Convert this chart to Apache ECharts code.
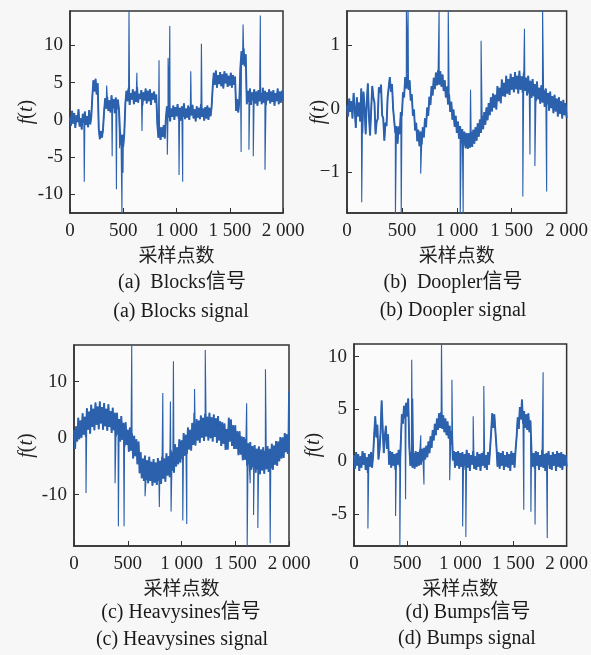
<!DOCTYPE html>
<html><head><meta charset="utf-8">
<script src="https://cdn.jsdelivr.net/npm/echarts@6/dist/echarts.min.js"></script>
<style>html,body{margin:0;padding:0;background:#f7f7f7;}#c{width:591px;height:655px;}</style>
</head><body><div id="c"></div>
<script>
// ---- data ----
const SAMPLE_STEP = 10;          // samples between consecutive base values
const xTicks = [0, 500, 1000, 1500, 2000];

// (a) Blocks: base noisy values every 10 samples, 0..2000
const blocksY = [
 0.3,-0.8,1.2,-0.5,0.9,-1.1,0.6,-0.3,1.4,-0.9,0.2,-1.3,0.8,-0.4,1.1,-0.7,0.5,-1.0,1.3,-0.6,0.4,
 3.2,5.3,3.8,5.5,3.4,4.9,
 -1.2,-2.6,-1.5,-2.4,-1.3,
 1.1,2.9,1.5,3.1,1.2,2.6,1.0,3.3,1.6,2.8,0.9,3.0,1.4,2.7,1.3,
 -1.6,-3.4,-2.0,-3.6,-1.8,
 2.2,3.9,2.5,4.3,2.0,3.6,2.7,4.1,2.1,3.8,2.4,4.4,2.3,3.5,2.8,4.0,1.9,3.7,2.6,4.2,2.2,3.9,2.5,4.1,2.0,3.6,2.7,3.8,2.3,3.4,
 -0.6,-2.4,-0.9,-2.7,-1.0,-2.3,-0.7,-2.5,
 0.1,1.8,0.3,2.0,-0.2,1.5,0.4,1.9,0.0,1.7,0.5,
 2.1,0.2,1.6,-0.1,1.8,0.4,2.2,0.1,1.5,0.3,1.9,
 0.0,1.7,0.6,2.0,0.2,1.4,-0.2,1.8,0.3,1.6,0.1,
 2.1,0.4,1.5,-0.1,1.7,0.2,1.9,0.0,1.6,0.5,1.8,
 4.4,6.3,4.7,6.6,4.3,6.0,4.8,6.4,4.5,6.1,4.2,6.5,4.9,6.2,4.4,5.9,4.6,6.3,4.3,6.0,4.7,5.8,
 1.2,2.8,1.0,2.5,
 7.0,9.2,7.4,9.6,7.2,8.8,
 2.1,3.9,2.4,4.2,2.0,3.7,2.6,4.1,2.2,3.8,1.9,4.0,
 2.5,3.6,2.1,4.3,2.3,3.9,2.0,3.7,2.6,4.1,2.2,3.8,
 2.4,4.0,1.9,3.6,2.5,4.2,2.1,3.8,2.3,3.9,2.6
];
// spikes: [sample, value]
const blocksSpikes = [[134,-8.3],[344,4.6],[396,-4.9],[436,-9.3],[466,-3.8],[488,-12.8],[498,-7.1],[554,14.8],[628,6.3],[676,-1.5],[836,8.0],[914,-4.7],[921,8.3],[937,12.6],[1024,-7.4],[1058,-8.3],[1134,6.5],[1234,10.2],[1607,-4.3],[1625,12.8],[1680,-4.0],[1721,-4.9],[1787,14.0],[1831,-6.7]];

// (b) Doppler
const dopplerY = [
 0.05,-0.12,0.16,-0.05,0.12,-0.15,0.25,0.02,-0.30,0.18,
 -0.12,0.10,-0.20,0.32,-0.38,0.27,0.02,-0.40,0.10,0.40,
 -0.12,-0.42,-0.02,0.36,0.18,0.10,-0.40,-0.20,-0.16,0.34,
 0.25,0.38,-0.10,-0.15,-0.50,-0.22,-0.27,0.18,0.17,0.50,
 0.27,0.39,0.0,-0.02,-0.38,-0.27,-0.55,-0.28,-0.40,-0.05,
 -0.11,0.26,0.18,0.50,0.32,0.56,0.30,0.45,0.13,0.23,
 -0.11,-0.01,-0.34,-0.22,-0.51,-0.33,-0.59,-0.36,-0.56,-0.29,
 -0.45,-0.15,-0.29,0.02,-0.11,0.19,0.06,0.36,0.21,0.49,
 0.31,0.57,0.37,0.61,0.38,0.59,0.35,0.54,0.28,0.45,
 0.18,0.35,0.07,0.23,-0.05,0.11,-0.17,-0.01,-0.28,-0.11,
 -0.38,-0.20,-0.47,-0.27,-0.54,-0.32,-0.58,-0.36,-0.62,-0.38,
 -0.63,-0.38,-0.61,-0.36,-0.60,-0.33,-0.55,-0.29,-0.50,-0.23,
 -0.44,-0.17,-0.38,-0.11,-0.32,-0.05,-0.25,0.02,-0.18,0.09,
 -0.10,0.18,-0.04,0.24,0.02,0.22,-0.01,0.36,0.12,0.33,
 0.09,0.46,0.20,0.41,0.19,0.52,0.24,0.47,0.22,0.55,
 0.30,0.50,0.26,0.58,0.31,0.52,0.24,0.60,0.30,0.51,
 0.25,0.57,0.28,0.49,0.21,0.52,0.24,0.44,0.17,0.47,
 0.20,0.39,0.12,0.43,0.15,0.33,0.08,0.37,0.10,0.30,
 0.03,0.32,0.07,0.25,-0.03,0.27,0.01,0.20,-0.07,0.22,
 -0.04,0.16,-0.12,0.18,-0.08,0.12,-0.15,0.14,-0.10,0.09,
 -0.14
];
const dopplerSpikes = [[134,-1.47],[441,-1.7],[494,-1.7],[541,1.6],[556,1.6],[671,-1.02],[839,1.6],[922,1.6],[1031,-1.7],[1058,-1.7],[1125,0.3],[1221,1.07],[1601,-1.38],[1616,1.26],[1666,-0.72],[1711,-0.9],[1781,1.6],[1818,-1.3]];

// (c) Heavysines
const heavyY = [
 1.4,-1.9,2.1,-0.6,3.6,-0.2,3.1,0.1,4.4,0.6,
 3.8,0.2,5.3,1.5,4.7,0.8,5.9,2.0,5.2,1.4,
 6.3,2.4,5.6,1.6,6.5,2.6,5.5,1.5,6.2,2.1,
 5.2,1.3,6.0,2.0,4.8,0.9,5.4,1.4,4.5,0.3,
 4.5,0.6,3.4,-0.6,3.9,-0.3,2.7,-1.5,2.8,-1.2,
 1.5,-2.4,1.9,-2.2,0.8,-3.6,0.4,-3.2,-0.2,-4.6,
 -0.6,-6.2,-2.5,-7.1,-3.6,-7.6,-3.1,-7.4,-3.9,-8.0,
 -3.3,-7.6,-4.2,-8.4,-3.7,-7.9,-4.3,-8.3,-3.5,-7.6,
 -4.0,-8.1,-3.3,-7.2,-3.6,-7.7,-2.7,-6.6,-3.2,-6.9,
 -2.1,-5.8,-2.4,-6.1,-1.1,-5.0,-1.6,-4.6,-0.2,-4.3,
 -0.4,-3.7,0.9,-3.1,0.6,-2.8,1.9,-2.0,1.5,-2.2,
 2.7,-1.2,2.6,-1.3,3.4,-0.4,3.1,-0.8,4.0,0.1,
 3.6,-0.5,4.3,0.3,3.8,-0.4,4.5,0.0,3.7,-0.6,
 4.2,0.2,3.5,-0.8,3.9,-0.4,3.0,-1.4,2.8,-1.0,
 2.6,-2.1,1.6,-2.0,3.6,-0.6,3.3,-1.4,2.3,-1.9,
 2.3,-1.9,1.2,-3.0,1.2,-2.9,0.3,-3.9,0.2,-3.8,
 -0.1,-4.9,-0.9,-4.6,-0.7,-5.6,-1.4,-5.2,-1.2,-6.1,
 -1.9,-5.6,-1.5,-6.4,-2.0,-5.7,-1.6,-6.3,-2.2,-5.5,
 -1.4,-6.0,-1.9,-5.4,-1.0,-5.6,-1.3,-4.7,-0.5,-4.9,
 -0.6,-4.1,0.2,-3.6,0.1,-3.5,0.9,-2.5,0.7,-2.8,
 0.5
];
const heavySpikes = [[112,-9.7],[382,-8.0],[413,-15.6],[466,-15.6],[537,16.6],[608,-2.8],[661,-10.3],[794,-12.2],[826,8.0],[897,6.5],[903,-13.0],[925,13.6],[1012,-14.6],[1049,-15.2],[1115,4.5],[1121,8.7],[1221,15.6],[1606,6.2],[1611,-19.5],[1639,-8.0],[1670,-13.6],[1710,-15.9],[1781,12.2],[1825,-18.6],[1997,8.3]];

// (d) Bumps
const bumpsY = [
 0.6,-0.7,0.9,-0.4,0.7,-0.9,0.5,-0.6,1.0,-0.3,0.8,-0.8,0.4,-1.1,0.7,-0.5,0.9,-0.6,0.6,
 2.6,4.3,2.3,3.5,0.2,1.1,2.8,5.8,3.1,0.8,2.4,3.4,1.2,2.6,
 -0.3,1.0,-0.6,0.9,-0.4,0.7,-0.8,0.8,-0.3,1.1,-0.5,
 1.8,4.5,3.6,5.3,4.1,5.6,4.3,6.0,1.5,
 -0.4,0.9,-0.6,0.8,-0.7,1.0,-0.5,0.9,-0.4,1.1,-0.3,1.2,0.0,1.3,0.2,1.5,
 0.4,1.9,0.8,2.4,1.3,3.0,2.0,3.6,2.5,4.1,3.0,4.6,3.2,4.7,3.1,4.4,2.8,4.1,2.5,3.8,2.2,3.4,1.6,2.9,
 0.1,1.0,-0.6,0.9,-0.4,1.0,-0.7,0.8,
 -0.5,0.9,-0.8,0.7,-0.4,1.1,-0.6,0.8,-0.9,0.6,-0.3,1.0,-0.7,0.5,-0.8,0.9,-0.5,0.7,-0.9,0.8,-0.4,1.0,-0.6,0.6,-0.8,0.9,-0.3,1.2,
 2.8,4.6,3.2,4.5,2.9,1.4,-0.5,0.9,
 -0.7,0.8,-0.4,1.0,-0.8,0.6,-0.5,0.9,-0.6,0.7,-0.9,1.0,-0.3,0.8,-0.6,1.1,
 2.4,4.2,3.1,5.2,4.0,5.9,3.6,4.8,3.2,4.5,3.0,4.6,2.8,3.9,0.9,-0.5,
 0.8,-0.7,1.0,-0.4,0.9,-0.8,0.6,-0.5,1.1,-0.6,0.7,-0.9,0.8,-0.3,1.0,-0.7,0.6,-0.8,0.9,-0.4,0.7,-0.9,1.0,-0.5,0.8,-0.6,0.9,-0.8,0.7,-0.4,0.6,-0.5
];
const bumpsSpikes = [[131,-6.4],[391,-5.2],[431,-8.5],[485,-3.6],[543,9.7],[552,6.0],[628,2.5],[658,-2.2],[823,11.5],[900,-1.8],[921,7.8],[1022,-6.2],[1052,-7.2],[1121,4.3],[1221,7.2],[1597,-4.6],[1664,-4.8],[1703,-6.0],[1779,8.5],[1818,-7.3]];

// axis tick values
const yTicksA = [-10, -5, 0, 5, 10];
const yTicksB = [-1, 0, 1];
const yTicksC = [-10, 0, 10];
const yTicksD = [-5, 0, 5, 10];

const captionsTop = ['(a)  Blocks信号', '(b)  Doopler信号', '(c) Heavysines信号', '(d) Bumps信号'];
const captionsBottom = ['(a) Blocks signal', '(b) Doopler signal', '(c) Heavysines signal', '(d) Bumps signal'];
const xName = '采样点数';

// ---- build ----
function baseOnly(base) {
  return base.map((v, i) => [i * SAMPLE_STEP, v]);
}
function build(base, spikes) {
  const pts = baseOnly(base);
  spikes.forEach(p => pts.push([p[0], p[1]]));
  pts.sort((a, b) => a[0] - b[0]);
  return pts;
}
const LINE = '#2c61ad';
const SERIF = '"Liberation Serif","DejaVu Serif",serif';
const CJK = '"Noto Sans CJK SC",sans-serif';

const grids = [
  {left: 70, top: 11, width: 213, height: 202},
  {left: 347, top: 11, width: 224, height: 202},
  {left: 74, top: 345, width: 215, height: 201},
  {left: 354, top: 344, width: 220, height: 202}
];
const yRanges = [[-12.5, 14.6], [-1.64, 1.54], [-19.1, 16.5], [-8.06, 11.2]];
const yTicks = [yTicksA, yTicksB, yTicksC, yTicksD];
const nameGaps = [33, 18, 37, 30];
const minusChars = ['-', '\u2212', '-', '-'];
const bases = [blocksY, dopplerY, heavyY, bumpsY];
const spikeSets = [blocksSpikes, dopplerSpikes, heavySpikes, bumpsSpikes];

const series = [];
bases.forEach((b, k) => {
  series.push({
    type: 'line', xAxisIndex: k, yAxisIndex: k, data: baseOnly(b), showSymbol: false, symbol: 'none',
    clip: true, silent: true, lineStyle: {color: LINE, width: 1.9, join: 'bevel'}, itemStyle: {color: LINE}, z: 2
  });
  series.push({
    type: 'line', xAxisIndex: k, yAxisIndex: k, data: build(b, spikeSets[k]), showSymbol: false, symbol: 'none',
    clip: true, silent: true, lineStyle: {color: LINE, width: 1.1}, itemStyle: {color: LINE}, z: 3
  });
});

const option = {
  backgroundColor: '#f7f7f7',
  animation: false,
  grid: grids.map(g => Object.assign({show: true, backgroundColor: '#fbfbfb', borderColor: '#333', borderWidth: 1.5}, g)),
  xAxis: grids.map((g, k) => ({
    gridIndex: k, type: 'value', min: 0, max: 2000, interval: 500,
    name: xName, nameLocation: 'middle', nameGap: 32, nameMoveOverlap: false,
    nameTextStyle: {fontFamily: CJK, fontSize: 19, color: '#222'},
    axisLine: {show: true, onZero: false, lineStyle: {color: '#333', width: 1.5}},
    axisTick: {show: true, inside: true, length: 5, lineStyle: {color: '#333'}, customValues: xTicks},
    axisLabel: {show: true, customValues: xTicks, margin: 9, fontFamily: SERIF, fontSize: 19, color: '#222',
      formatter: v => v >= 1000 ? String(v).replace(/(\d)(\d{3})$/, '$1 $2') : String(v)},
    splitLine: {show: false}
  })),
  yAxis: grids.map((g, k) => ({
    gridIndex: k, type: 'value', min: yRanges[k][0], max: yRanges[k][1],
    name: '{i|f}{n|(}{i|t}{n|)}', nameLocation: 'middle', nameGap: nameGaps[k], nameRotate: 90, nameMoveOverlap: false,
    nameTextStyle: {fontFamily: SERIF, fontSize: 20, color: '#222',
      rich: {i: {fontFamily: SERIF, fontStyle: 'italic', fontSize: 20, color: '#222'}, n: {fontFamily: SERIF, fontSize: 20, color: '#222'}}},
    axisLine: {show: true, onZero: false, lineStyle: {color: '#333', width: 1.5}},
    axisTick: {show: true, inside: true, length: 5, lineStyle: {color: '#333'}, customValues: yTicks[k]},
    axisLabel: {show: true, customValues: yTicks[k], margin: 7, fontFamily: SERIF, fontSize: 19, color: '#222',
      formatter: v => (v < 0 ? minusChars[k] + Math.abs(v) : String(v))},
    splitLine: {show: false}
  })),
  series: series,
  graphic: [
    {x: 182, y: 283}, {x: 453, y: 283}, {x: 181, y: 613}, {x: 468, y: 613}
  ].map((p, k) => ({type: 'text', x: p.x, y: p.y, style: {text: captionsTop[k], fill: '#1a1a1a',
      font: '20px ' + SERIF + ',' + CJK, align: 'center', verticalAlign: 'middle'}}))
  .concat([
    {x: 181, y: 312}, {x: 453, y: 311}, {x: 182, y: 640}, {x: 467, y: 639}
  ].map((p, k) => ({type: 'text', x: p.x, y: p.y, style: {text: captionsBottom[k], fill: '#1a1a1a',
      font: '20px ' + SERIF, align: 'center', verticalAlign: 'middle'}})))
};
const chart = echarts.init(document.getElementById('c'), null, {renderer: 'canvas'});
chart.setOption(option);
</script></body></html>
